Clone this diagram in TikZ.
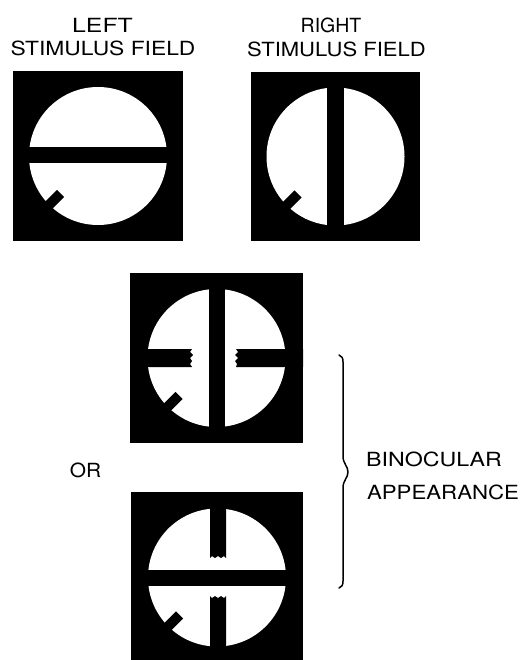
\documentclass[tikz,border=0pt]{standalone}
\usepackage{fontspec}
\setmainfont{TeX Gyre Heros}
\usetikzlibrary{calc}
\begin{document}
\begin{tikzpicture}[x=1pt,y=-1pt,
  lbl/.style={inner sep=0pt,anchor=base,font=\fontsize{19.5}{22}\selectfont},
  panelbg/.style={fill=black},
  fieldc/.style={fill=white},
  barfill/.style={fill=black},
  tickline/.style={line width=10pt,black,line cap=butt},
  bracel/.style={line width=1.5pt,black,line cap=round,line join=round}]
\useasboundingbox (0,0) rectangle (521,660);
\fill[white] (0,0) rectangle (521,660);
\begin{scope}
\clip (0,0) rectangle (521,660);
% ---------- panel 1 : left stimulus field
\coordinate (c1) at (98,156);
\fill[panelbg] (13,71) rectangle (183,241);
\fill[fieldc] (c1) circle[radius=69pt];
\fill[barfill] (13,147) rectangle (183,163);
\draw[tickline] ($(c1)+(135:53)$) -- ($(c1)+(135:76)$);
% ---------- panel 2 : right stimulus field
\coordinate (c2) at (335.5,156.5);
\fill[panelbg] (251,72) rectangle (420,241);
\fill[fieldc] (c2) circle[radius=69pt];
\fill[barfill] (327,72) rectangle (344,241);
\draw[tickline] ($(c2)+(135:53)$) -- ($(c2)+(135:76)$);
% ---------- panel 3 : binocular appearance (a)
\coordinate (c3) at (216.5,358);
\fill[panelbg] (130,273) rectangle (303,443);
\fill[fieldc] (c3) circle[radius=69pt];
\fill[barfill] (209,273) rectangle (225,443);
\fill[barfill] (130,349) -- (192,349) -- (190,352) -- (193,355) -- (190,358) -- (192,361) -- (190,364) -- (192,367) -- (130,367) -- cycle;
\fill[barfill] (303,349) -- (236,349) -- (238,352) -- (235,355) -- (238,358) -- (235,361) -- (237,364) -- (236,367) -- (303,367) -- cycle;
\draw[tickline] ($(c3)+(135:53)$) -- ($(c3)+(135:76)$);
% ---------- panel 4 : binocular appearance (b)
\coordinate (c4) at (217,577.5);
\fill[panelbg] (131,492) rectangle (303,664);
\fill[fieldc] (c4) circle[radius=69pt];
\fill[barfill] (131,570) rectangle (303,586);
\fill[barfill] (210,492) -- (226,492) -- (226,558) -- (224,556) -- (221,558) -- (218,556) -- (215,558) -- (212,556) -- (210,558) -- cycle;
\fill[barfill] (210,664) -- (226,664) -- (226,596) -- (224,598) -- (221,596) -- (218,598) -- (215,596) -- (212,598) -- (210,596) -- cycle;
\draw[tickline] ($(c4)+(135:53)$) -- ($(c4)+(135:76)$);
\end{scope}
% ---------- brace
\coordinate (btop) at (339,355);
\coordinate (bbot) at (339,588);
\coordinate (btip) at (348,472);
\draw[bracel] (btop) .. controls (342,356) and (343,358) .. (343,362)
  -- (343,456) .. controls (343,464) and (348,466) .. (btip)
  .. controls (348,478) and (343,480) .. (343,488)
  -- (343,581) .. controls (343,585) and (342,587) .. (bbot);
% ---------- labels
\node[lbl] (t1a) at (102.5,33) {\scalebox{1.27}[1]{LEFT}};
\node[lbl] (t1b) at (103,56) {\scalebox{1.17}[1]{STIMULUS FIELD}};
\node[lbl] (t2a) at (331,33) {\scalebox{1.0}[1]{RIGHT}};
\node[lbl] (t2b) at (336.5,57) {\scalebox{1.13}[1]{STIMULUS FIELD}};
\node[lbl] (tor) at (85.5,477) {\scalebox{1.07}[1]{OR}};
\node[lbl] (tbin) at (434,466) {\scalebox{1.19}[1]{BINOCULAR}};
\node[lbl] (tapp) at (443,499) {\scalebox{1.14}[1]{APPEARANCE}};
\end{tikzpicture}
\end{document}
